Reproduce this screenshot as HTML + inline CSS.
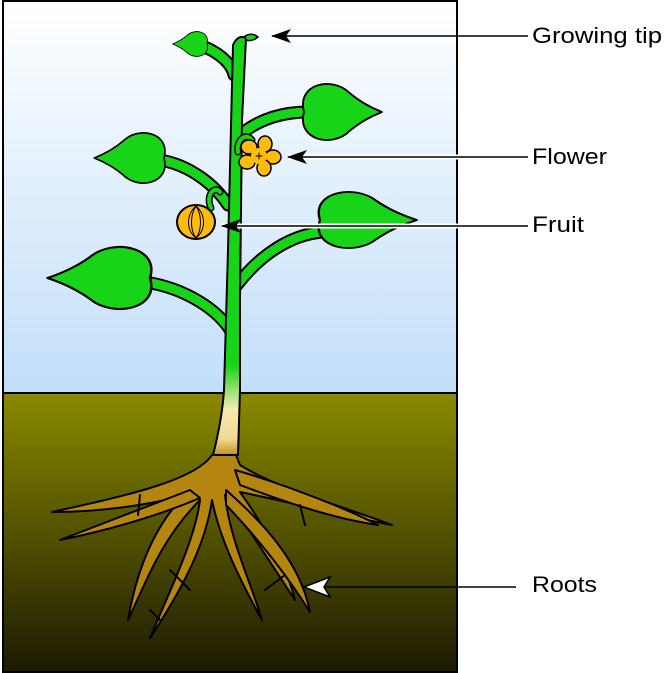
<!DOCTYPE html>
<html><head><style>body{margin:0;background:#fff}svg{display:block}</style></head><body>
<svg width="666" height="673" viewBox="0 0 666 673" xmlns="http://www.w3.org/2000/svg">
<defs>
<linearGradient id="sky" x1="0" y1="0" x2="0" y2="1"><stop offset="0" stop-color="#ffffff"/><stop offset="1" stop-color="#c2def9"/></linearGradient>
<linearGradient id="soil" x1="0" y1="0" x2="0" y2="1"><stop offset="0" stop-color="#8a8a00"/><stop offset="1" stop-color="#1c1a02"/></linearGradient>
<linearGradient id="stem" gradientUnits="userSpaceOnUse" x1="0" y1="34" x2="0" y2="470"><stop offset="0" stop-color="#18d418"/><stop offset="0.76" stop-color="#18d418"/><stop offset="0.86" stop-color="#f6eab0"/><stop offset="0.93" stop-color="#f0d890"/><stop offset="0.97" stop-color="#b8860e"/></linearGradient>
<path id="leaf" d="M0,0 C8,-30 -30,-38 -48,-20 Q -62,-8 -82,0 Q -62,8 -48,20 C -30,38 8,30 0,0 Z"/>
<marker id="ah" markerWidth="20" markerHeight="14" refX="19" refY="7" orient="auto" markerUnits="userSpaceOnUse"><path d="M0,0 L20,7 L0,14 L5,7 Z" fill="#000"/></marker>
</defs>
<rect x="3" y="1" width="454" height="392" fill="url(#sky)"/>
<rect x="3" y="393" width="454" height="279" fill="url(#soil)"/>
<line x1="3" y1="393" x2="457" y2="393" stroke="#000" stroke-width="2"/>
<rect x="3" y="1" width="454" height="671" fill="none" stroke="#000" stroke-width="2"/>

<g stroke="#000" stroke-width="2" stroke-linejoin="round" stroke-linecap="round">
<g fill="#b5860f">
<path d="M212,455 C195,480 130,495 52,512 C100,512 150,505 185,495 C150,530 135,580 128,620 C145,585 160,540 200,500 C195,540 170,590 150,638 C175,600 205,550 212,500 C220,540 240,580 262,620 C250,580 230,540 225,495 C250,530 275,570 295,600 C285,560 260,520 240,492 C280,500 340,515 392,525 C340,505 280,490 240,465 L236,455 Z"/>
<path d="M190,490 C150,505 100,525 60,540 C110,530 160,515 200,498 Z"/>
<path d="M235,470 C270,480 340,505 378,525 C330,518 280,500 240,485 Z"/>
<path d="M226,490 C260,520 300,560 310,612 C290,580 260,540 226,505 Z"/>
<path d="M140,495 L138,515 M300,505 L305,525 M170,570 L190,590 M285,575 L265,590 M150,610 L160,620"/>
</g>
<g fill="none">
<path d="M207,48 C222,55 232,65 234,75" stroke="#000" stroke-width="13"/>
<path d="M240,135 C260,118 285,112 308,112" stroke="#000" stroke-width="13"/>
<path d="M160,160 C190,165 215,185 228,205" stroke="#000" stroke-width="13"/>
<path d="M237,285 C260,255 290,235 322,232" stroke="#000" stroke-width="13"/>
<path d="M145,282 C185,288 220,310 233,335" stroke="#000" stroke-width="13"/>
</g>
<g fill="none" stroke="#18d418" stroke-width="9">
<path d="M207,48 C222,55 232,65 234,75"/>
<path d="M240,135 C260,118 285,112 308,112"/>
<path d="M160,160 C190,165 215,185 228,205"/>
<path d="M237,285 C260,255 290,235 322,232"/>
<path d="M145,282 C185,288 220,310 233,335"/>
</g>
<path d="M233,45 Q238,34 246,38 L242,120 L240,300 L240,390 L238,455 L213,455 Q222,420 224,390 L228,250 Z" fill="url(#stem)"/>
<path d="M245,36 Q252,32 258,37 Q252,42 246,40 Z" fill="#18d418" stroke-width="1.5"/>
<g fill="#18d418">
<use href="#leaf" transform="translate(207,44) scale(0.42)"/>
<use href="#leaf" transform="translate(304,112) rotate(180) scale(0.95)"/>
<use href="#leaf" transform="translate(164,158) scale(0.85)"/>
<use href="#leaf" transform="translate(320,220) rotate(180) scale(1.18,0.95)"/>
<use href="#leaf" transform="translate(150,278) scale(1.25,1.05)"/>
</g>
<path d="M238,152 C236,140 246,132 252,140" fill="none" stroke="#000" stroke-width="7"/>
<path d="M238,152 C236,140 246,132 252,140" fill="none" stroke="#18d418" stroke-width="4"/>
<g fill="#ffbb10" stroke-width="1.5">
<ellipse cx="249" cy="147" rx="8" ry="7"/><ellipse cx="265" cy="144" rx="7" ry="8"/><ellipse cx="273" cy="157" rx="8" ry="7"/><ellipse cx="264" cy="168" rx="7" ry="8"/><ellipse cx="247" cy="162" rx="8" ry="7"/>
<circle cx="259" cy="156" r="8" stroke="none"/>
</g>
<path d="M256,156 l6,0 M259,153 l0,6" stroke-width="1"/>
<path d="M211,208 C205,195 215,185 220,192" fill="none" stroke="#000" stroke-width="7"/>
<path d="M211,208 C205,195 215,185 220,192" fill="none" stroke="#18d418" stroke-width="4"/>
<ellipse cx="196" cy="222" rx="19" ry="17" fill="#ffbb10"/>
<path d="M196,206 C186,215 186,230 196,238 M196,206 C206,215 206,230 196,238 M196,206 C190,215 190,230 196,238 M196,206 C202,215 202,230 196,238" fill="none" stroke-width="1"/>
</g>
<g stroke="#000" stroke-width="1.5">
<line x1="528" y1="36" x2="272" y2="36" marker-end="url(#ah)"/>
<line x1="528" y1="157" x2="288" y2="157" stroke="#fff" stroke-width="5"/>
<line x1="528" y1="157" x2="288" y2="157" marker-end="url(#ah)"/>
<line x1="528" y1="226" x2="222" y2="226" stroke="#fff" stroke-width="5"/>
<line x1="528" y1="226" x2="222" y2="226" marker-end="url(#ah)"/>
<line x1="516" y1="587" x2="320" y2="587"/>
<path d="M304,587 L330,577 L324,587 L330,597 Z" fill="#fff" stroke-width="1.5"/>
</g>
<g font-family="Liberation Sans, sans-serif" font-size="22" fill="#000">
<text x="532" y="43" textLength="130" lengthAdjust="spacingAndGlyphs">Growing tip</text>
<text x="532" y="164" textLength="75" lengthAdjust="spacingAndGlyphs">Flower</text>
<text x="532" y="232" textLength="52" lengthAdjust="spacingAndGlyphs">Fruit</text>
<text x="532" y="592" textLength="65" lengthAdjust="spacingAndGlyphs">Roots</text>
</g>
</svg>
</body></html>
